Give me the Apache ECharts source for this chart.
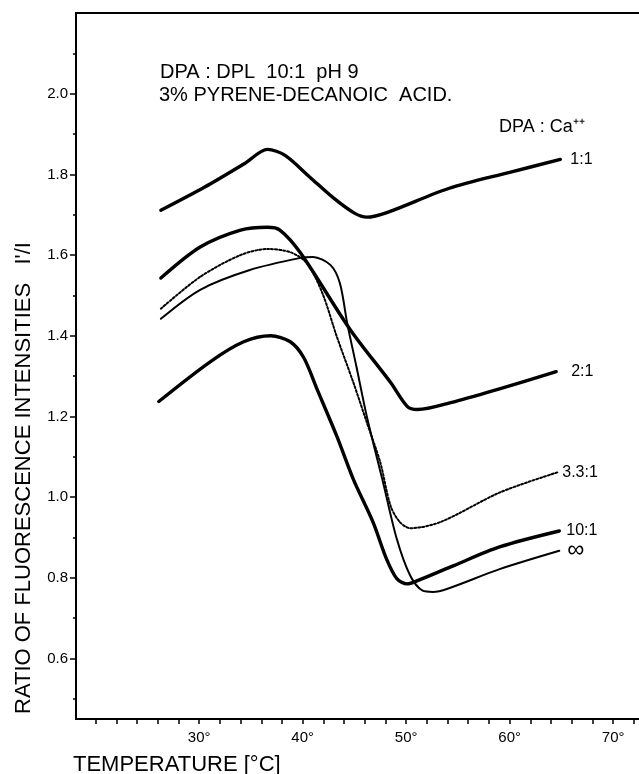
<!DOCTYPE html>
<html>
<head>
<meta charset="utf-8">
<script src="https://cdn.jsdelivr.net/npm/echarts@6.0.0/dist/echarts.min.js"></script>
<style>
html, body { margin: 0; padding: 0; background: #fff; }
#chart { width: 639px; height: 774px; }
</style>
</head>
<body>
<div id="chart"></div>
<script>
// readings taken off the plot (temperature in deg C, ratio I'/I)
var temp11 = [26.3, 30.5, 34.4, 36.6, 38.3, 40.7, 43.0, 45.0, 46.2, 48.2, 54.1, 60.0, 64.9];
var ratio11 = [1.711, 1.768, 1.827, 1.862, 1.847, 1.793, 1.741, 1.704, 1.694, 1.706, 1.765, 1.805, 1.837];

var temp21 = [26.3, 30.1, 34.0, 36.6, 37.8, 39.8, 44.6, 48.5, 50.1, 51.1, 54.3, 59.1, 64.5];
var ratio21 = [1.543, 1.620, 1.662, 1.669, 1.662, 1.605, 1.415, 1.284, 1.225, 1.217, 1.234, 1.269, 1.311];

var temp331 = [26.3, 30.1, 34.0, 36.6, 38.8, 40.4, 41.9, 43.3, 44.9, 46.2, 47.5, 48.5, 49.4, 50.4, 53.3, 59.1, 64.7];
var ratio331 = [1.467, 1.546, 1.600, 1.615, 1.607, 1.580, 1.506, 1.398, 1.284, 1.185, 1.086, 0.978, 0.938, 0.923, 0.938, 1.012, 1.062];

var temp101 = [26.1, 31.1, 34.3, 36.9, 38.8, 40.1, 41.4, 43.3, 44.9, 46.8, 48.1, 49.1, 50.1, 51.1, 54.3, 59.1, 64.8];
var ratio101 = [1.237, 1.336, 1.385, 1.400, 1.385, 1.346, 1.267, 1.151, 1.044, 0.938, 0.847, 0.798, 0.785, 0.793, 0.827, 0.877, 0.916];

var tempInf = [26.3, 30.1, 34.9, 39.8, 41.0, 42.7, 43.6, 44.3, 45.2, 46.2, 47.7, 49.1, 50.4, 51.6, 52.6, 54.0, 59.1, 64.8];
var ratioInf = [1.442, 1.514, 1.563, 1.593, 1.595, 1.575, 1.530, 1.432, 1.323, 1.200, 1.044, 0.896, 0.805, 0.768, 0.765, 0.773, 0.822, 0.867];

var xLabels = [30, 40, 50, 60, 70];
var xTicks = [20, 22, 24, 26, 28, 30, 32, 34, 36, 38, 40, 42, 44, 46, 48, 50, 52, 54, 56, 58, 60, 62, 64, 66, 68, 70, 72];
var yLabels = [0.6, 0.8, 1.0, 1.2, 1.4, 1.6, 1.8, 2.0];
var yMinor = [0.5, 0.7, 0.9, 1.1, 1.3, 1.5, 1.7, 1.9, 2.1];

var FONT = '"Liberation Sans", Arial, Helvetica, sans-serif';

function pairs(xs, ys) {
    var out = [];
    for (var i = 0; i < xs.length; i++) out.push([xs[i], ys[i]]);
    return out;
}

function curve(name, xs, ys, width, type, lbl) {
    return {
        name: name,
        type: 'line',
        data: pairs(xs, ys),
        smooth: 0.3,
        showSymbol: false,
        symbol: 'none',
        silent: true,
        lineStyle: { color: '#000', width: width, type: type, cap: 'round', join: 'round' },
        endLabel: {
            show: true,
            formatter: lbl.text,
            distance: lbl.distance,
            color: '#000',
            fontFamily: FONT,
            fontSize: lbl.size
        },
        animation: false
    };
}

var myChart = echarts.init(document.getElementById('chart'));

var option = {
    backgroundColor: '#fff',
    animation: false,
    grid: { left: 76, right: 0, top: 13, bottom: 55 },
    xAxis: [{
        type: 'value',
        min: 18.1,
        max: 72.5,
        splitLine: { show: false },
        axisLine: { show: true, lineStyle: { color: '#000', width: 2 } },
        axisTick: { show: true, customValues: xTicks, length: 5, lineStyle: { color: '#000', width: 1.5 } },
        axisLabel: {
            customValues: xLabels,
            formatter: function (v) { return v + '°'; },
            color: '#000', fontFamily: FONT, fontSize: 15, margin: 11
        }
    }, {
        type: 'value',
        position: 'top',
        min: 18.1,
        max: 72.5,
        splitLine: { show: false },
        axisLine: { show: true, lineStyle: { color: '#000', width: 2 } },
        axisTick: { show: false },
        axisLabel: { show: false }
    }],
    yAxis: [{
        type: 'value',
        min: 0.45,
        max: 2.2,
        splitLine: { show: false },
        axisLine: { show: true, lineStyle: { color: '#000', width: 2 } },
        axisTick: { show: true, customValues: yLabels, length: 6, lineStyle: { color: '#000', width: 1.5 } },
        axisLabel: {
            customValues: yLabels,
            formatter: function (v) { return v.toFixed(1); },
            color: '#000', fontFamily: FONT, fontSize: 15, margin: 8
        }
    }, {
        type: 'value',
        position: 'left',
        min: 0.45,
        max: 2.2,
        splitLine: { show: false },
        axisLine: { show: false },
        axisTick: { show: true, customValues: yMinor, length: 3, lineStyle: { color: '#000', width: 1.5 } },
        axisLabel: { show: false }
    }],
    graphic: [{
        type: 'text',
        style: { text: 'DPA : DPL  10:1  pH 9', x: 160, y: 72, textVerticalAlign: 'middle', font: '20px ' + FONT, fill: '#000' }
    }, {
        type: 'text',
        style: { text: '3% PYRENE-DECANOIC  ACID.', x: 159, y: 95, textVerticalAlign: 'middle', font: '20px ' + FONT, fill: '#000' }
    }, {
        type: 'text',
        style: { text: 'DPA : Ca⁺⁺', x: 499, y: 127, textVerticalAlign: 'middle', font: '18px ' + FONT, fill: '#000' }
    }, {
        type: 'text',
        style: { text: 'TEMPERATURE [°C]', x: 73, y: 765, textVerticalAlign: 'middle', font: '22px ' + FONT, fill: '#000' }
    }, {
        type: 'text',
        x: 24,
        y: 478,
        rotation: Math.PI / 2,
        style: { text: "RATIO OF FLUORESCENCE INTENSITIES   I'/I", x: 0, y: 0, textAlign: 'center', textVerticalAlign: 'middle', font: '22px ' + FONT, fill: '#000' }
    }],
    series: [
        curve('1:1', temp11, ratio11, 3.4, 'solid', { text: '1:1', distance: 10, size: 16 }),
        curve('2:1', temp21, ratio21, 3.4, 'solid', { text: '2:1', distance: 15, size: 16 }),
        curve('3.3:1', temp331, ratio331, 2, 'dotted', { text: '3.3:1', distance: 4, size: 16 }),
        curve('10:1', temp101, ratio101, 3.4, 'solid', { text: '10:1', distance: 7, size: 16 }),
        curve('inf', tempInf, ratioInf, 2, 'solid', { text: '∞', distance: 8, size: 24 })
    ]
};

if (option && typeof option === 'object') {
    myChart.setOption(option, true);
}
</script>
</body>
</html>
